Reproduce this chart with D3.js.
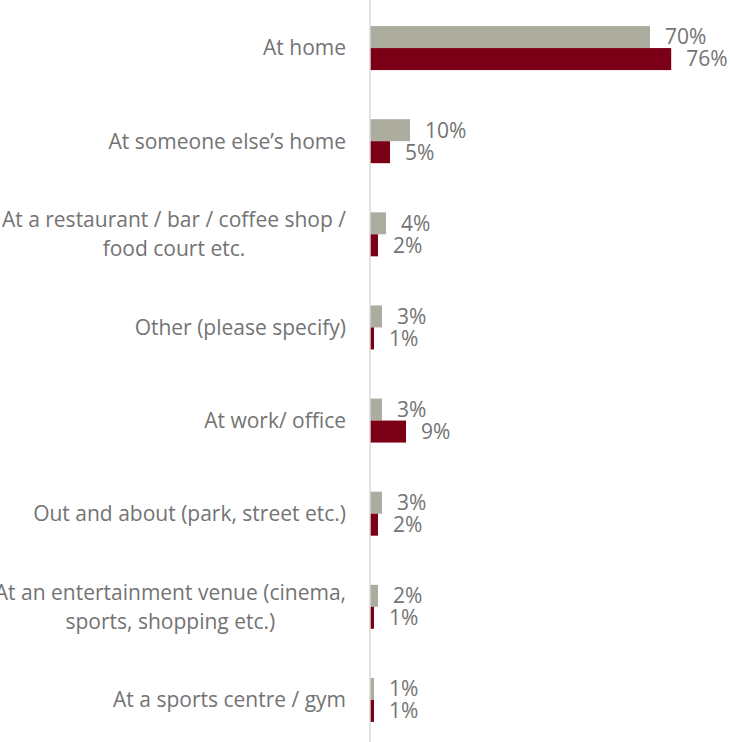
<!DOCTYPE html>
<html>
<head>
<meta charset="utf-8">
<script src="https://cdn.jsdelivr.net/npm/d3@7"></script>
<style>
  html, body { margin: 0; padding: 0; background: #fff; }
  svg { display: block; }
  text { font-family: "Open Sans", sans-serif; }
</style>
</head>
<body>
<svg id="chart" width="730" height="742"></svg>
<script>
const categories = [
  ["At home"],
  ["At someone else\u2019s home"],
  ["At a restaurant / bar / coffee shop /", "food court etc."],
  ["Other (please specify)"],
  ["At work/ office"],
  ["Out and about (park, street etc.)"],
  ["At an entertainment venue (cinema,", "sports, shopping etc.)"],
  ["At a sports centre / gym"]
];
const seriesA = [70, 10, 4, 3, 3, 3, 2, 1];      // grey
const seriesB = [75.3, 5, 2, 1, 9, 2, 1, 1];      // dark red
const labelsA = ["70%", "10%", "4%", "3%", "3%", "3%", "2%", "1%"];
const labelsB = ["76%", "5%", "2%", "1%", "9%", "2%", "1%", "1%"];

const svg = d3.select("#chart");
const x0 = 370;
const x = d3.scaleLinear().domain([0, 100]).range([x0, x0 + 400]);
const y = d3.scaleBand().domain(d3.range(categories.length)).range([1.5, 746.5]).paddingInner(0).paddingOuter(0);
const barH = 22;
const textColor = "#737373";
const fs = 21;

const g = svg.append("g");
categories.forEach((c, i) => {
  const cy = y(i) + y.bandwidth() / 2;
  g.append("rect").attr("x", x(0)).attr("y", cy - barH).attr("width", x(seriesA[i]) - x(0)).attr("height", barH).attr("fill", "#ADAD9F");
  g.append("rect").attr("x", x(0)).attr("y", cy).attr("width", x(seriesB[i]) - x(0)).attr("height", barH).attr("fill", "#7B0017");
  g.append("text").attr("x", x(seriesA[i]) + 15).attr("y", cy - barH / 2).attr("dy", "0.35em")
    .attr("fill", textColor).attr("font-size", fs).text(labelsA[i]);
  g.append("text").attr("x", x(seriesB[i]) + 15).attr("y", cy + barH / 2).attr("dy", "0.35em")
    .attr("fill", textColor).attr("font-size", fs).text(labelsB[i]);

  const lines = c;
  const widths = lines.map(l => {
    const t = svg.append("text").attr("font-size", fs).text(l);
    const w = t.node().getComputedTextLength();
    t.remove();
    return w;
  });
  const maxW = d3.max(widths);
  const centerX = 346 - maxW / 2;
  const lh = 29;
  const startY = cy - (lines.length - 1) * lh / 2;
  lines.forEach((l, k) => {
    svg.append("text").attr("x", centerX).attr("y", startY + k * lh).attr("dy", "0.35em")
      .attr("text-anchor", "middle").attr("fill", textColor).attr("font-size", fs).text(l);
  });
});

svg.append("line").attr("x1", x0).attr("x2", x0).attr("y1", 0).attr("y2", 742)
  .attr("stroke", "#D9D9D9").attr("stroke-width", 1.5);
</script>
</body>
</html>
